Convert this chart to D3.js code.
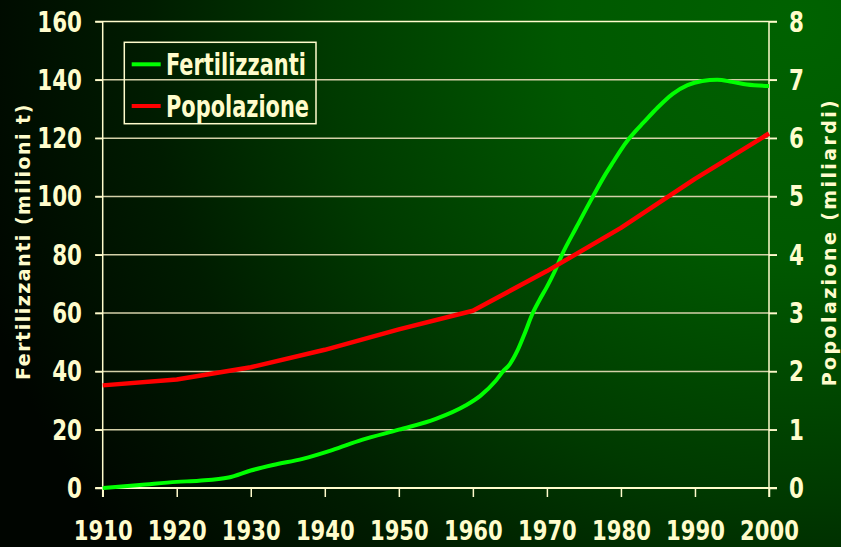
<!DOCTYPE html>
<html><head><meta charset="utf-8">
<script src="https://cdn.jsdelivr.net/npm/d3@7"></script>
<style>html,body{margin:0;padding:0;background:#001000;}svg{display:block;}</style>
</head><body>
<svg id="chart" width="841" height="547"></svg>
<script>
// ---- data ----
const fertYears = [1910,1915,1920,1923,1927,1930,1933,1937,1941,1945,1950,1955,1959,1961,1963,1964,1965,1966,1967,1968,1969,1970,1971,1972,1974,1976,1978,1979,1980,1981,1982,1983,1985,1987,1989,1991,1993,1995,1997,2000];
const fertValues = [0,1.0,2.1,2.5,3.6,6,7.9,10,13,16.5,20,23.7,28.3,31.6,36.5,39.8,42.5,47,53,59.5,64.5,69,74,79.8,89.5,99,108,112,116,119.5,122.5,125.2,130.6,135.2,138.2,139.6,140,139.3,138.4,137.9];
const popYears = [1910,1920,1930,1940,1950,1960,1970,1980,1990,2000];
const popValues = [1.76,1.86,2.07,2.37,2.72,3.04,3.72,4.46,5.30,6.08];
const xTicks = [1910,1920,1930,1940,1950,1960,1970,1980,1990,2000];
const leftTicks = [0,20,40,60,80,100,120,140,160];
const rightTicks = [0,1,2,3,4,5,6,7,8];
const seriesNames = ["Fertilizzanti","Popolazione"];
const leftTitle = "Fertilizzanti (milioni t)";
const rightTitle = "Popolazione (miliardi)";

const cream = "#fffccc";
const gridCol = "#d4d0a8";
const svg = d3.select("#chart");
const W = 841, H = 547;
const m = {left:102.7, right:769, top:21.5, bottom:488};

// background
const defs = svg.append("defs");
const rg = defs.append("radialGradient").attr("id","bg").attr("gradientUnits","userSpaceOnUse")
  .attr("cx",800).attr("cy",20).attr("r",860);
[[0,"#006200"],[0.28,"#005800"],[0.55,"#003a00"],[0.76,"#001c00"],[1,"#000500"]]
  .forEach(([o,c])=>rg.append("stop").attr("offset",o).attr("stop-color",c));
svg.append("rect").attr("width",W).attr("height",H).attr("fill","url(#bg)");

const x = d3.scaleLinear().domain([1910,2000]).range([m.left,m.right]);
const yL = d3.scaleLinear().domain([0,160]).range([m.bottom,m.top]);
const yR = d3.scaleLinear().domain([0,8]).range([m.bottom,m.top]);

const tickFont = "'DejaVu Sans Condensed','DejaVu Sans',sans-serif";
const tickSX = 0.85;

// gridlines
svg.append("g").selectAll("line").data(leftTicks.filter(d=>d>0)).join("line")
  .attr("x1",m.left-7.5).attr("x2",m.right+8).attr("y1",d=>yL(d)).attr("y2",d=>yL(d))
  .attr("stroke",d=>d===160?cream:gridCol).attr("stroke-width",1.5);

// axes (ticks via d3 axis, labels drawn separately to allow horizontal compression)
const gL = svg.append("g").attr("transform",`translate(${m.left},0)`)
  .call(d3.axisLeft(yL).tickValues(leftTicks).tickSize(7.5).tickFormat(""));
const gR = svg.append("g").attr("transform",`translate(${m.right},0)`)
  .call(d3.axisRight(yR).tickValues(rightTicks).tickSize(8).tickFormat(""));
const gB = svg.append("g").attr("transform",`translate(0,${m.bottom})`)
  .call(d3.axisBottom(x).tickValues(xTicks).tickSize(9).tickFormat(""));
[gL,gR,gB].forEach(g=>{
  g.select(".domain").remove();
  g.selectAll(".tick line").attr("stroke",cream).attr("stroke-width",1.5);
});

function lbl(g, px, py, anchor, sx, size, txt){
  return g.append("text").attr("transform",`translate(${px},${py}) scale(${sx},1)`)
    .attr("text-anchor",anchor).attr("fill",cream)
    .style("font-family",tickFont).style("font-weight","bold").style("font-size",size+"px").text(txt);
}
const labels = svg.append("g");
leftTicks.forEach(d=>lbl(labels, 82, yL(d)+10, "end", tickSX, 28, d));
rightTicks.forEach(d=>lbl(labels, 789, yR(d)+10, "start", tickSX, 28, d));
xTicks.forEach(d=>lbl(labels, x(d)+0.5, 540, "middle", 0.87, 27, d));

// axis lines
svg.append("line").attr("x1",m.left).attr("x2",m.left).attr("y1",m.top).attr("y2",m.bottom+9)
  .attr("stroke",cream).attr("stroke-width",1.5);
svg.append("line").attr("x1",m.right).attr("x2",m.right).attr("y1",m.top).attr("y2",m.bottom+9)
  .attr("stroke",cream).attr("stroke-width",1.5);
svg.append("line").attr("x1",m.left-7.5).attr("x2",m.right+8).attr("y1",m.bottom).attr("y2",m.bottom)
  .attr("stroke",cream).attr("stroke-width",2);

// lines
const fert = fertYears.map((d,i)=>({x:d,y:fertValues[i]}));
const pop = popYears.map((d,i)=>({x:d,y:popValues[i]}));
svg.append("path").datum(fert)
  .attr("d",d3.line().x(d=>x(d.x)).y(d=>yL(d.y)).curve(d3.curveMonotoneX))
  .attr("fill","none").attr("stroke","#00ff00").attr("stroke-width",4).attr("stroke-linejoin","round");
svg.append("path").datum(pop)
  .attr("d",d3.line().x(d=>x(d.x)).y(d=>yR(d.y)))
  .attr("fill","none").attr("stroke","#ff0000").attr("stroke-width",4.5).attr("stroke-linejoin","round");

// axis titles
const titleFont = "'DejaVu Sans',Verdana,sans-serif";
svg.append("text").attr("transform",`translate(30,241.5) rotate(-90)`)
  .attr("text-anchor","middle").attr("fill",cream)
  .style("font-family",titleFont).style("font-weight","bold").style("font-size","19px")
  .style("letter-spacing","1.5px").text(leftTitle);
svg.append("text").attr("transform",`translate(836,242) rotate(-90)`)
  .attr("text-anchor","middle").attr("fill",cream)
  .style("font-family",titleFont).style("font-weight","bold").style("font-size","19px")
  .style("letter-spacing","2.4px").text(rightTitle);

// legend
const lg = svg.append("g");
lg.append("rect").attr("x",124.3).attr("y",42.3).attr("width",191.7).attr("height",81.4)
  .attr("fill","none").attr("stroke",cream).attr("stroke-width",1.5);
const legColors = ["#00ff00","#ff0000"];
const legY = [64.3,106];
seriesNames.forEach((n,i)=>{
  lg.append("line").attr("x1",131.7).attr("x2",160.7).attr("y1",legY[i]).attr("y2",legY[i])
    .attr("stroke",legColors[i]).attr("stroke-width",4);
  lbl(lg, 166, legY[i]+10.8, "start", 0.775, 30, n);
});
</script>
</body></html>
